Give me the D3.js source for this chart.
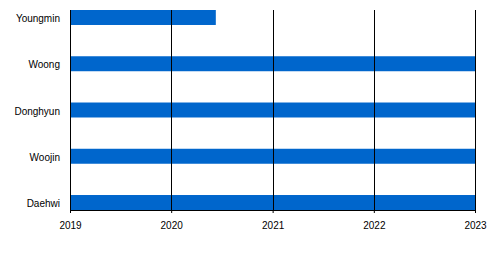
<!DOCTYPE html>
<html>
<head>
<meta charset="utf-8">
<script src="https://cdn.jsdelivr.net/npm/d3@7"></script>
<style>
  body { margin: 0; background: #fff; }
  text { font-family: "Liberation Sans", Arial, sans-serif; }
</style>
</head>
<body>
<div id="wrapper"></div>
<script>
//Members, top to bottom
const members = ["Youngmin", "Woong", "Donghyun", "Woojin", "Daehwi"];
//Start and end of each bar
const startDates = ["2019-01-01", "2019-01-01", "2019-01-01", "2019-01-01", "2019-01-01"];
const endDates = ["2020-06-10", "2023-01-01", "2023-01-01", "2023-01-01", "2023-01-01"];
//Axis range and tick labels
const axisDomain = ["2019-01-01", "2023-01-01"];
const tickYears = ["2019", "2020", "2021", "2022", "2023"];

const dateParser = d3.timeParse("%Y-%m-%d");
const data = members.map((name, i) => ({
    name: name,
    start: dateParser(startDates[i]),
    end: dateParser(endDates[i])
}));

//Dimension of svg
var dimension = {
    width: 500,
    height: 275,
    margin: { top: 10, left: 70, bottom: 65, right: 25 }
};
dimension.boundedWidth = dimension.width - dimension.margin.left - dimension.margin.right;
dimension.boundedHeight = dimension.height - dimension.margin.top - dimension.margin.bottom;

const svg = d3.select("#wrapper").append("svg")
    .attr("width", dimension.width)
    .attr("height", dimension.height);

const bounded = svg.append("g")
    .attr("transform", `translate(${dimension.margin.left},${dimension.margin.top})`);

const xScaler = d3.scaleTime()
    .domain(axisDomain.map(dateParser))
    .range([0, dimension.boundedWidth]);

const yScaler = d3.scaleBand()
    .domain(members)
    .range([0, dimension.boundedHeight])
    .paddingInner(0.676)
    .paddingOuter(0);

//bars
bounded.selectAll("rect.bar")
    .data(data)
    .join("rect")
    .attr("class", "bar")
    .attr("x", d => xScaler(d.start))
    .attr("y", d => yScaler(d.name))
    .attr("width", d => xScaler(d.end) - xScaler(d.start))
    .attr("height", yScaler.bandwidth())
    .attr("fill", "#0066cc");

//vertical grid lines at each year
const tickDates = tickYears.map(y => dateParser(y + "-01-01"));
bounded.selectAll("line.grid")
    .data(tickDates)
    .join("line")
    .attr("class", "grid")
    .attr("x1", d => Math.round(xScaler(d)) + 0.5)
    .attr("x2", d => Math.round(xScaler(d)) + 0.5)
    .attr("y1", 0)
    .attr("y2", dimension.boundedHeight)
    .attr("stroke", "#000")
    .attr("stroke-width", 1);

//x axis
const xAxis = bounded.append("g")
    .attr("transform", `translate(0,${dimension.boundedHeight})`)
    .call(d3.axisBottom(xScaler)
        .tickValues(tickDates)
        .tickFormat(d3.timeFormat("%Y"))
        .tickSize(3)
        .tickSizeOuter(0)
        .tickPadding(7));
xAxis.select(".domain").attr("stroke", "#000");
xAxis.selectAll("text")
    .attr("font-size", 10)
    .attr("fill", "#000")
    .attr("dy", "0.9em")
    .style("font-family", "'Liberation Sans', Arial, sans-serif");

//y axis labels
const yAxis = bounded.append("g")
    .call(d3.axisLeft(yScaler).tickSize(0).tickPadding(10));
yAxis.select(".domain").remove();
yAxis.selectAll("text")
    .attr("font-size", 10)
    .attr("fill", "#000")
    .attr("dy", "0.45em")
    .style("font-family", "'Liberation Sans', Arial, sans-serif");
</script>
</body>
</html>
